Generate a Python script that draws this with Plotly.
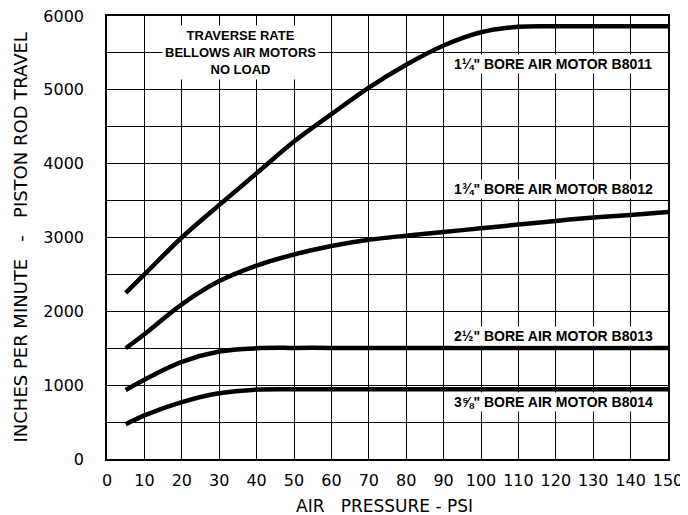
import plotly.graph_objects as go

# Air pressure (PSI) sample points
pressure = [5, 10, 20, 30, 40, 50, 60, 70, 80, 90, 100, 110, 120, 130, 140, 150]

# Inches per minute - piston rod travel
b8011 = [2250, 2500, 3000, 3440, 3870, 4300, 4670, 5030, 5340, 5600, 5780, 5855, 5862, 5862, 5862, 5862]
b8012 = [1500, 1690, 2095, 2410, 2620, 2770, 2885, 2970, 3025, 3075, 3125, 3175, 3225, 3270, 3305, 3345]
b8013 = [935, 1075, 1315, 1455, 1500, 1505, 1505, 1505, 1505, 1505, 1505, 1505, 1505, 1505, 1505, 1505]
b8014 = [470, 590, 770, 890, 940, 945, 945, 945, 945, 945, 945, 945, 945, 945, 945, 945]

series = [
    ("1\u00bc\" BORE AIR MOTOR B8011", b8011, 5355),
    ("1\u00be\" BORE AIR MOTOR B8012", b8012, 3663),
    ("2\u00bd\" BORE AIR MOTOR B8013", b8013, 1664),
    ("3\u215d\" BORE AIR MOTOR B8014", b8014, 775),
]

x_ticks = list(range(0, 151, 10))
y_ticks = list(range(0, 6001, 1000))

fig = go.Figure()
for name, ys, _ in series:
    fig.add_trace(go.Scatter(
        x=pressure, y=ys, mode="lines", name=name,
        line=dict(color="black", width=4.5, shape="spline", smoothing=1.0),
        showlegend=False,
    ))

label_font = dict(family="Liberation Sans", size=14, color="black")
for name, ys, ly in series:
    fig.add_annotation(
        x=119.3, y=ly, text="<b>" + name + "</b>", showarrow=False,
        font=label_font, bgcolor="white", borderpad=1,
        xanchor="center", yanchor="middle",
    )

fig.add_annotation(
    x=35.6, y=5500,
    text="<b>TRAVERSE RATE<br>BELLOWS AIR MOTORS<br>NO LOAD</b>",
    showarrow=False, font=dict(family="Liberation Sans", size=13, color="black"),
    bgcolor="white", borderpad=2,
    align="center", xanchor="center", yanchor="middle",
)

tick_font = dict(family="DejaVu Sans, Verdana", size=16, color="black")
fig.update_xaxes(
    range=[0, 150], tickvals=x_ticks, ticktext=[str(v) for v in x_ticks],
    showgrid=True, gridcolor="black", gridwidth=1.3,
    showline=True, linecolor="black", linewidth=1.5, mirror=True,
    zeroline=False, ticks="", tickfont=tick_font, automargin=False,
    ticklabelstandoff=6, ticklabeloverflow="allow",
)
fig.update_yaxes(
    range=[0, 6000], tickvals=y_ticks, ticktext=[str(v) for v in y_ticks],
    showgrid=True, gridcolor="black", gridwidth=1.3,
    minor=dict(dtick=500, showgrid=True, gridcolor="black", gridwidth=1.3),
    showline=True, linecolor="black", linewidth=1.5, mirror=True,
    zeroline=False, ticks="", tickfont=tick_font, ticklabelstandoff=18,
    automargin=False, ticklabeloverflow="allow",
)

fig.add_annotation(
    xref="paper", yref="paper", x=0.495, y=-0.106,
    text="AIR   PRESSURE - PSI", showarrow=False,
    font=dict(family="DejaVu Sans, Verdana", size=17, color="black"),
    xanchor="center", yanchor="middle",
)
fig.add_annotation(
    xref="paper", yref="paper", x=-0.1533, y=0.5, textangle=-90,
    text="INCHES PER MINUTE   -   PISTON ROD TRAVEL", showarrow=False,
    font=dict(family="DejaVu Sans, Verdana", size=18, color="black"),
    xanchor="center", yanchor="middle", borderpad=0,
)

fig.update_layout(
    width=680, height=507,
    margin=dict(l=99, r=20, t=8, b=56, autoexpand=False),
    plot_bgcolor="white", paper_bgcolor="white",
)

fig.write_html("out.html")
